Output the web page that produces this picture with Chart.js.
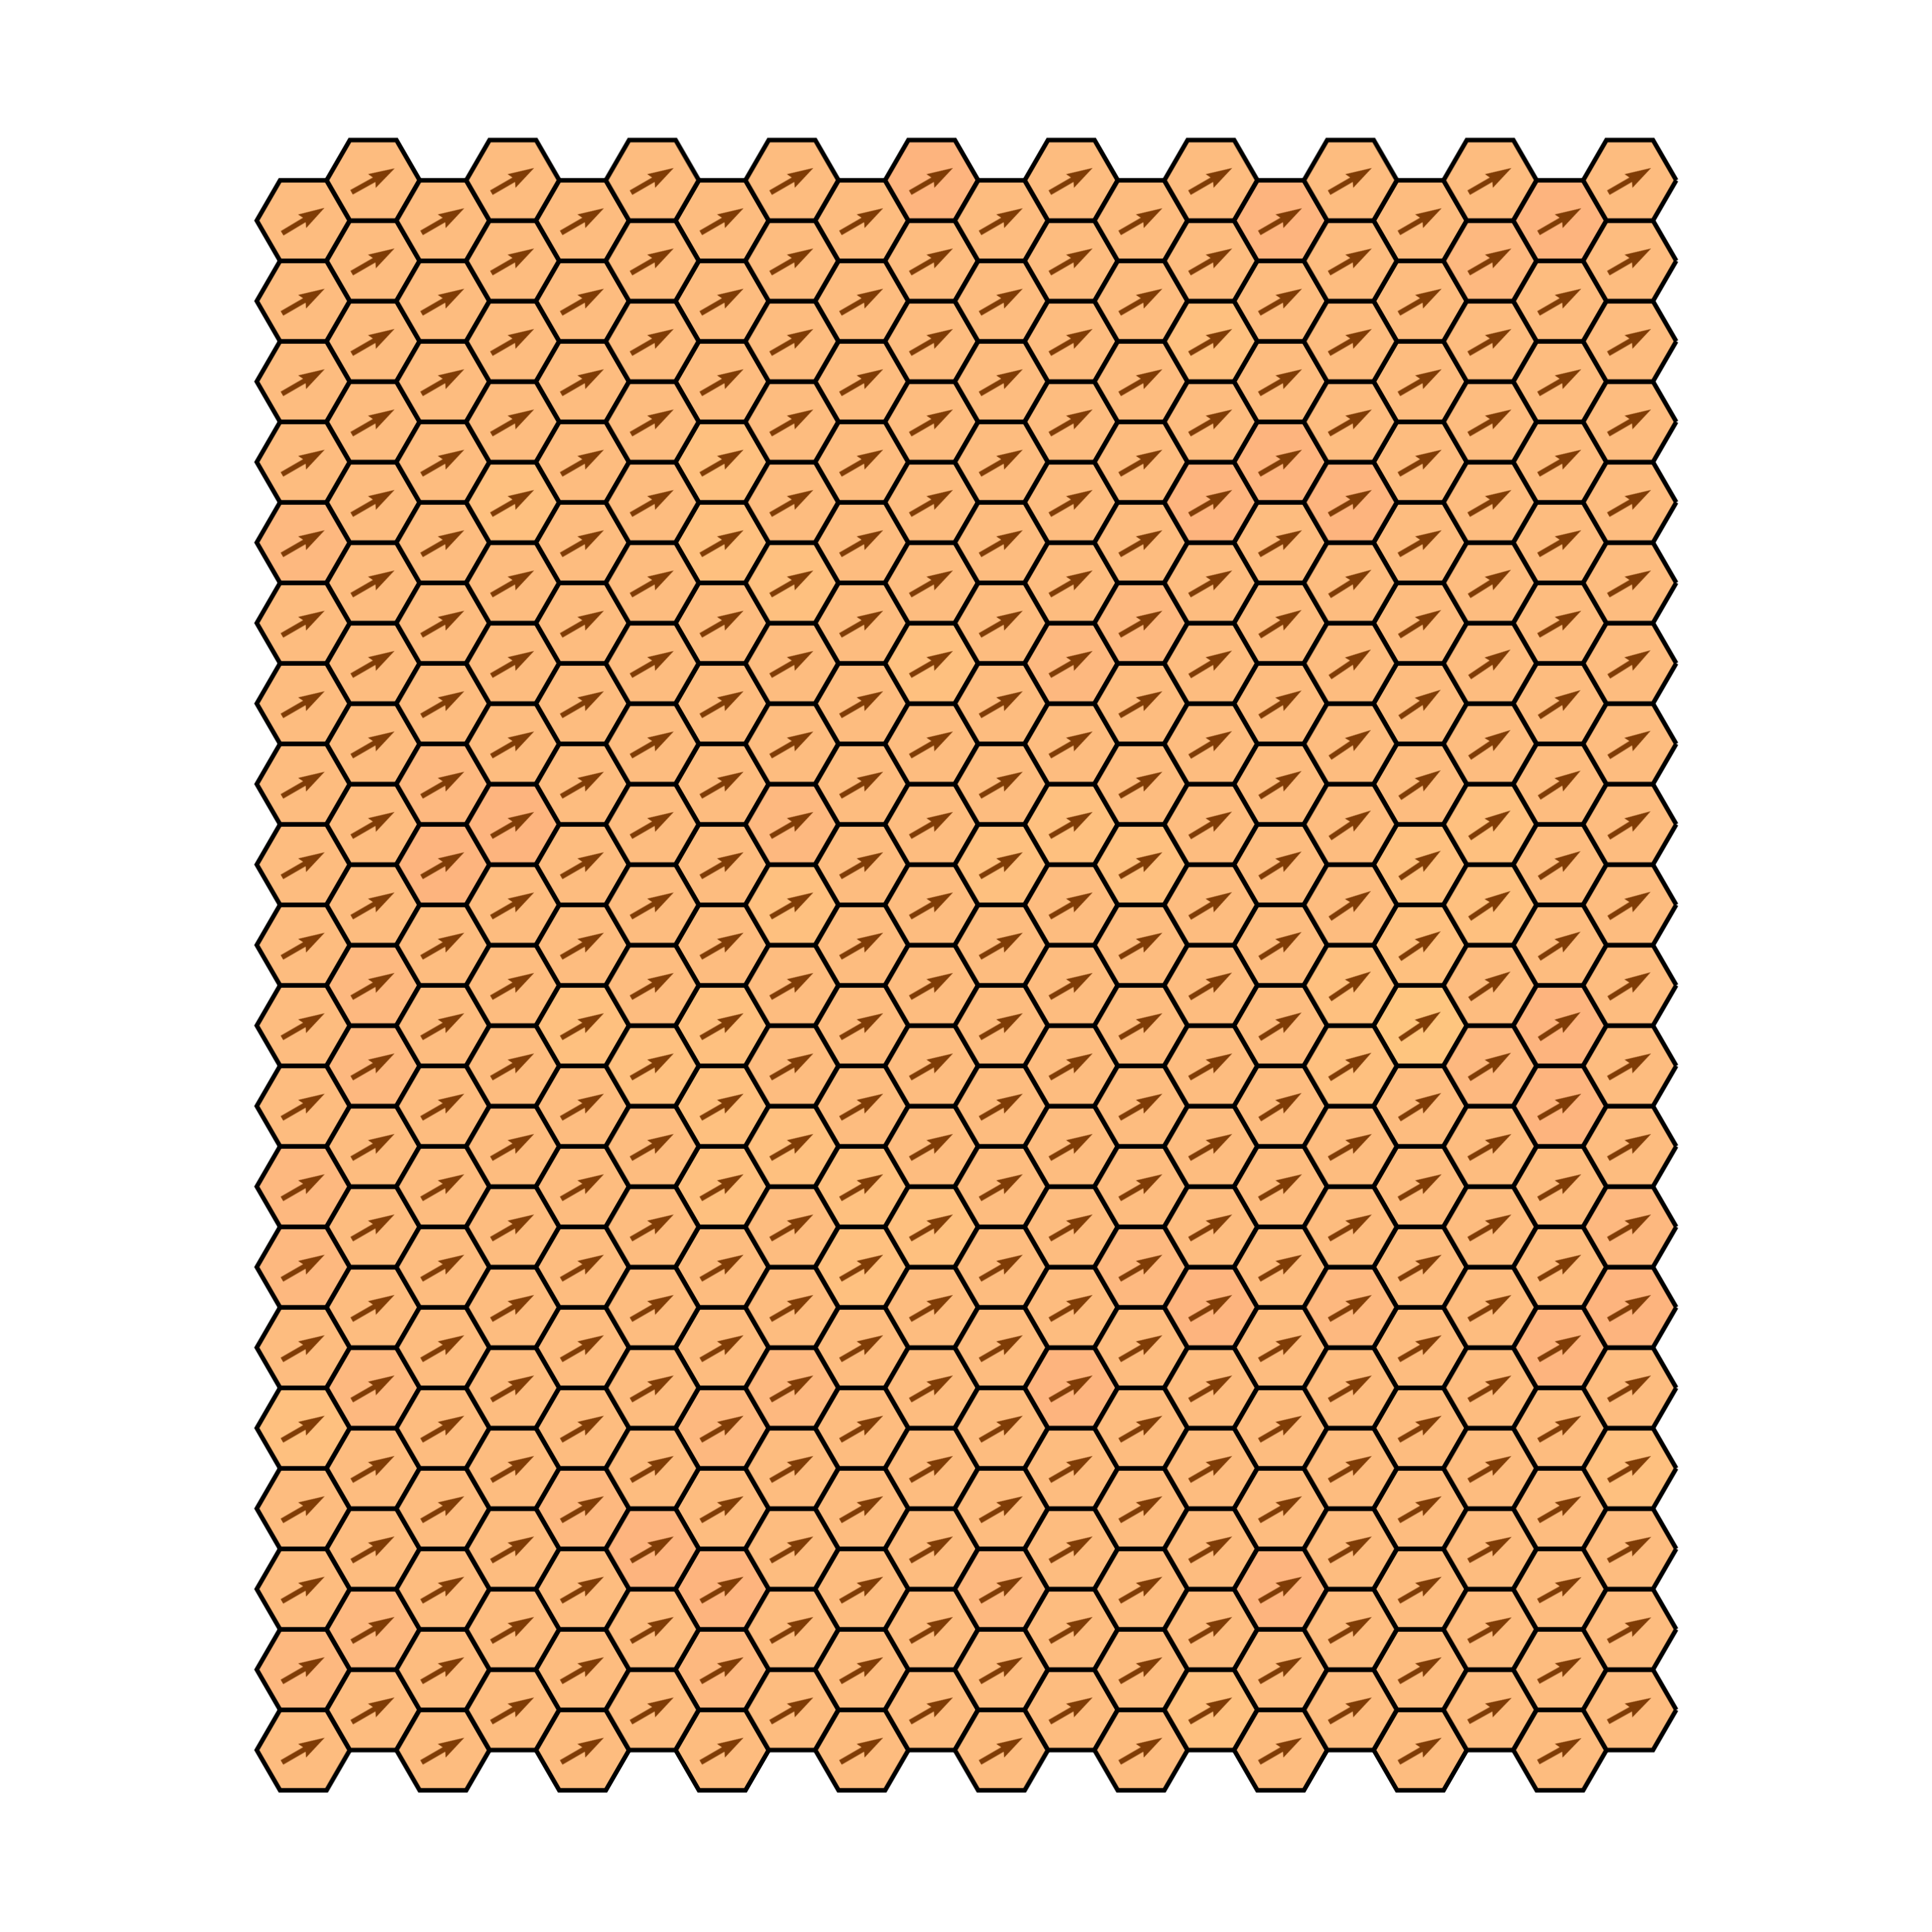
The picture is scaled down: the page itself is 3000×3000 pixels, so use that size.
<!doctype html>
<html lang="en">
<head>
<meta charset="UTF-8">
<title>Hex field</title>
<script src="https://cdn.jsdelivr.net/npm/chart.js"></script>
<style>
  html, body { margin: 0; padding: 0; background: #fff; }
  canvas { display: block; }
</style>
</head>
<body>
<canvas id="hexChart" width="3000" height="3000"></canvas>
<script>
// grid: 20 columns x 20 rows, odd columns shifted up half a row
const N_COLS = 20;
const N_ROWS = 20;

// fill shade per cell, one string per column, bottom row first
// 0 = salmon ... 4 = pale yellow-orange
const shadeCols = [
    '21223211222222212222',
    '21221222112222222222',
    '22222222222012222222',
    '22222222222022232222',
    '22212222232222222222',
    '22022222322222222222',
    '21021223332222233222',
    '22221223223122322222',
    '22222233222222222222',
    '22222232222223222220',
    '22122222222322222222',
    '22220222222321222222',
    '22222212222322122222',
    '32222022222222202322',
    '22022222222222220220',
    '22222122332222202222',
    '22222222243322222222',
    '22222222123322222212',
    '22222022002222222220',
    '22232012222222222222'
];
const shadeColors = [
    'rgb(253,180,126)',
    'rgb(253,184,127)',
    'rgb(253,188,127)',
    'rgb(254,192,127)',
    'rgb(254,197,127)'
];

// arrow direction per cell, degrees above horizontal = 26 + digit
const angleCols = [
    '44444444444444444445',
    '44444444444444444443',
    '44444444444444444444',
    '44444444444444444444',
    '44444444444444444444',
    '44444444444444444444',
    '44444444444444444444',
    '44444444444444444444',
    '44444444444444444444',
    '44444444444444444444',
    '44444444444444444444',
    '44444444444444444444',
    '44444444444444444444',
    '44444444455555444444',
    '44444444666666644444',
    '44444444688888644444',
    '44444444688888644444',
    '33344444688888644444',
    '33344444477777444444',
    '33344444466666444444'
];

const cells = [];
for (let c = 0; c < N_COLS; c++) {
    for (let j = 0; j < N_ROWS; j++) {
        cells.push({
            x: c,
            y: j + (c % 2 ? 0.5 : 0),
            shade: +shadeCols[c][j],
            angle: 26 + (+angleCols[c][j])
        });
    }
}

// sprites are built once the scales know their pixel size
const sprites = { hex: [], arrow: null };

function makeHex(r, fill) {
    const lw = 7;
    const size = Math.ceil(2 * r + 2 * lw + 4);
    const cv = document.createElement('canvas');
    cv.width = size;
    cv.height = size;
    const g = cv.getContext('2d');
    const m = size / 2;
    g.beginPath();
    // path starts at the right vertex and is not closed (leaves a small notch there)
    for (let k = 0; k <= 6; k++) {
        const a = k * Math.PI / 3;
        const px = m + r * Math.cos(a);
        const py = m - r * Math.sin(a);
        if (k === 0) g.moveTo(px, py); else g.lineTo(px, py);
    }
    g.fillStyle = fill;
    g.fill();
    g.lineWidth = lw;
    g.lineJoin = 'miter';
    g.lineCap = 'butt';
    g.strokeStyle = '#000';
    g.stroke();
    return cv;
}

function makeArrow(len, w) {
    const hl = 5 * w, hal = 4.5 * w, hw = 1.5 * w;
    const W = Math.ceil(len + 8);
    const H = Math.ceil(2 * hw + 8);
    const cv = document.createElement('canvas');
    cv.width = W;
    cv.height = H;
    const g = cv.getContext('2d');
    const x0 = (W - len) / 2, cy = H / 2;
    g.beginPath();
    g.moveTo(x0, cy - w / 2);
    g.lineTo(x0 + len - hal, cy - w / 2);
    g.lineTo(x0 + len - hl, cy - hw);
    g.lineTo(x0 + len, cy);
    g.lineTo(x0 + len - hl, cy + hw);
    g.lineTo(x0 + len - hal, cy + w / 2);
    g.lineTo(x0, cy + w / 2);
    g.closePath();
    g.fillStyle = 'rgb(127,60,6)';
    g.fill();
    return cv;
}

const spritePlugin = {
    id: 'sprites',
    afterLayout(chart) {
        const xs = chart.scales.x;
        const unit = Math.abs(xs.getPixelForValue(1) - xs.getPixelForValue(0));
        const r = unit / 1.5;
        sprites.hex = shadeColors.map(col => makeHex(r, col));
        sprites.arrow = makeArrow(r * 1.06, r * 0.112);
    }
};

new Chart(document.getElementById('hexChart'), {
    type: 'scatter',
    data: {
        datasets: [
            {
                label: 'arrows',
                data: cells,
                order: 1,
                clip: false,
                pointRadius: 10,
                pointHoverRadius: 10,
                pointStyle: ctx => sprites.arrow || 'circle',
                pointRotation: ctx => ctx.raw ? -ctx.raw.angle : 0
            },
            {
                label: 'cells',
                data: cells,
                order: 2,
                clip: false,
                pointRadius: 10,
                pointHoverRadius: 10,
                pointStyle: ctx => (ctx.raw && sprites.hex[ctx.raw.shade]) || 'circle'
            }
        ]
    },
    options: {
        responsive: false,
        devicePixelRatio: 1,
        animation: false,
        events: [],
        layout: {
            padding: { left: 362.6, right: 361, top: 155, bottom: 157.5 }
        },
        plugins: {
            legend: { display: false },
            tooltip: { enabled: false }
        },
        scales: {
            x: { type: 'linear', min: -1, max: 20, display: false },
            y: { type: 'linear', min: -1, max: 20.5, display: false }
        }
    },
    plugins: [spritePlugin]
});
</script>
</body>
</html>
